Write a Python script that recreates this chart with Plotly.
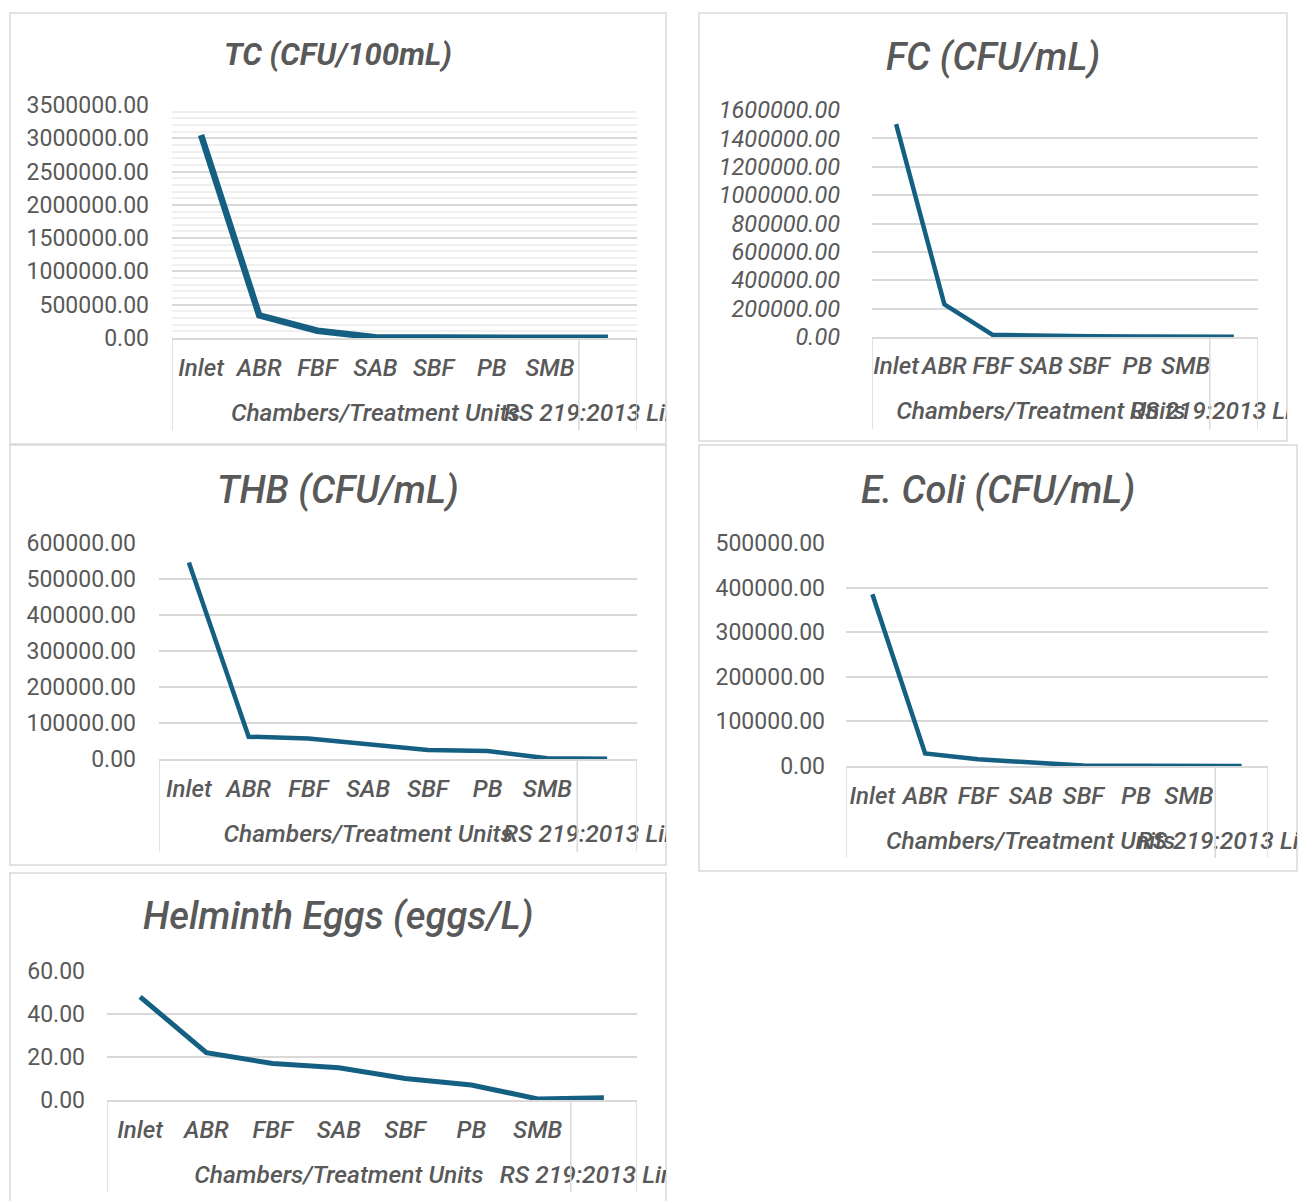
import plotly.graph_objects as go

W, H = 1302, 1201

# Treatment stages along the x axis (last slot is the RS 219:2013 limit)
units = ["Inlet", "ABR", "FBF", "SAB", "SBF", "PB", "SMB", ""]
group_main = "Chambers/Treatment Units"
group_limit = "RS 219:2013 Limits"

# Microbial counts per stage
tc = [3050000, 340000, 110000, 10000, 6000, 4000, 2000, 2000]
fc = [1500000, 230000, 15000, 8000, 5000, 4000, 500, 1000]
thb = [546000, 62000, 57000, 40000, 25000, 22000, 2000, 1000]
ecoli = [385000, 28000, 15000, 7000, 1000, 500, 300, 100]
helminth = [48, 22, 17, 15, 10, 7, 0.5, 1]

LINE = "#156082"
GREY = "#595959"
RULE = "#d9d9d9"
FONT = "Roboto"


def fx(x):
    return x / W


def fy(y):
    return 1 - y / H


# geometry of each chart block in page pixels
panels = [
    dict(title="TC (CFU/100mL)", vals=tc, ymax=3500000, dtick=500000, minor=100000,
         box=(10, 13, 666, 444), plot=(172, 105, 637, 338), cat_y=369, grp_y=415, div_b=430,
         title_y=55, title_font=dict(size=31, style="italic", weight="bold"),
         tick_italic=False, gap=22, lw=6.5),
    dict(title="FC (CFU/mL)", vals=fc, ymax=1600000, dtick=200000, minor=None,
         box=(699, 13, 1287, 441), plot=(872, 110, 1258, 337), cat_y=367, grp_y=413, div_b=429,
         title_y=57, title_font=dict(size=38, style="italic", weight=500),
         tick_italic=True, gap=31, lw=4.5),
    dict(title="THB (CFU/mL)", vals=thb, ymax=600000, dtick=100000, minor=None,
         box=(10, 445, 666, 865), plot=(159, 543, 637, 759), cat_y=790, grp_y=836, div_b=852,
         title_y=490, title_font=dict(size=38, style="italic", weight=500),
         tick_italic=False, gap=22, lw=4.5),
    dict(title="E. Coli (CFU/mL)", vals=ecoli, ymax=500000, dtick=100000, minor=None,
         box=(699, 445, 1297, 871), plot=(846, 543, 1268, 766), cat_y=797, grp_y=843, div_b=858,
         title_y=490, title_font=dict(size=38, style="italic", weight=500),
         tick_italic=False, gap=20, lw=4.5),
    dict(title="Helminth Eggs (eggs/L)", vals=helminth, ymax=60, dtick=20, minor=None,
         box=(10, 873, 666, 1215), plot=(107, 971, 637, 1100), cat_y=1131, grp_y=1177, div_b=1192,
         title_y=916, title_font=dict(size=38, style="italic", weight=500),
         tick_italic=False, gap=21, lw=5),
]

fig = go.Figure()
shapes = []
annotations = []
layout_axes = {}
n = len(panels)

for i, p in enumerate(panels, start=1):
    L, T, R, B = p["plot"]
    bl, bt, br, bb = p["box"]
    xa, ya = f"x{i}", f"y{i}"
    xo, yo = f"x{i + n}", f"y{i + n}"

    # panel frame
    shapes.append(dict(type="rect", xref="paper", yref="paper",
                       x0=fx(bl), x1=fx(br), y0=fy(bb), y1=fy(bt),
                       line=dict(color=RULE, width=1.5), fillcolor="rgba(0,0,0,0)", layer="below"))

    # title
    annotations.append(dict(text=p["title"], xref="paper", yref="paper",
                            x=fx((bl + br) / 2), y=fy(p["title_y"]), xanchor="center", yanchor="middle",
                            showarrow=False, font=dict(family=FONT, color=GREY, **p["title_font"])))

    tickfont = dict(family=FONT, size=23, color=GREY)
    if p["tick_italic"]:
        tickfont = dict(family=FONT, size=23.5, color=GREY, style="italic")

    layout_axes[f"xaxis{i}"] = dict(
        domain=[fx(L), fx(R)], range=[-0.5, 7.5], anchor=ya, automargin=False,
        tickmode="array", tickvals=list(range(len(units))), ticktext=units, tickangle=0,
        tickfont=dict(family=FONT, size=24, color=GREY, style="italic", weight=500),
        ticks="", showgrid=False, zeroline=False, showline=True, linecolor=RULE, linewidth=1.5,
        ticklabelstandoff=p["cat_y"] - B - 24, fixedrange=True)

    yax = dict(
        domain=[fy(B), fy(T)], range=[0, p["ymax"]], anchor=xa, dtick=p["dtick"], tick0=0,
        automargin=False, tickformat=".2f", tickfont=tickfont,
        showgrid=True, gridcolor=RULE, gridwidth=1.5,
        zeroline=False, showline=False, ticks="", ticklabelstandoff=p["gap"], fixedrange=True)
    if p["minor"]:
        yax["minor"] = dict(showgrid=True, gridcolor="#efefef", gridwidth=1.5, dtick=p["minor"])
    layout_axes[f"yaxis{i}"] = yax

    # category-group separators below the axis
    for xv in (-0.5, 6.5, 7.5):
        shapes.append(dict(type="line", xref=xa, yref="paper", x0=xv, x1=xv,
                           y0=fy(B), y1=fy(p["div_b"]), line=dict(color=RULE, width=1.5)))

    fig.add_trace(go.Scatter(x=list(range(len(units))), y=p["vals"], mode="lines",
                             line=dict(color=LINE, width=p["lw"]), xaxis=xa, yaxis=ya,
                             cliponaxis=False, hoverinfo="skip", showlegend=False))

    # group labels, clipped at the panel frame
    span = 8 * (br - L) / (R - L)
    layout_axes[f"xaxis{i + n}"] = dict(domain=[fx(L), fx(br)], range=[-0.5, -0.5 + span],
                                        anchor=yo, visible=False, fixedrange=True, automargin=False)
    layout_axes[f"yaxis{i + n}"] = dict(domain=[fy(p["grp_y"] + 20), fy(p["grp_y"] - 20)],
                                        range=[0, 1], anchor=xo, visible=False, fixedrange=True,
                                        automargin=False)
    fig.add_trace(go.Scatter(x=[3, 7], y=[0.5, 0.5], mode="text", text=[group_main, group_limit],
                             textposition="middle center",
                             textfont=dict(family=FONT, size=24.5, color=GREY, style="italic", weight=500),
                             xaxis=xo, yaxis=yo, cliponaxis=True, hoverinfo="skip", showlegend=False))

fig.update_layout(width=W, height=H, autosize=False,
                  margin=dict(l=0, r=0, t=0, b=0, pad=0, autoexpand=False),
                  paper_bgcolor="white", plot_bgcolor="rgba(0,0,0,0)",
                  showlegend=False, shapes=shapes, annotations=annotations, **layout_axes)

fig.write_html("out.html", config={"displayModeBar": False})
